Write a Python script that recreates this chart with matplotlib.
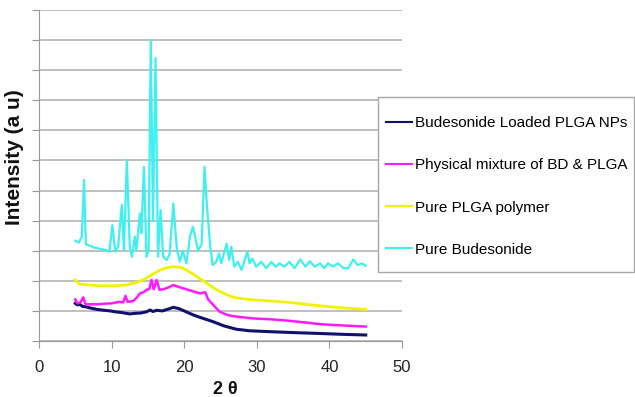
import matplotlib
matplotlib.use("Agg")
import matplotlib.pyplot as plt
from matplotlib.patches import Rectangle

plt.rcParams['font.family'] = ['Liberation Sans', 'DejaVu Sans']

# XRD patterns (2 theta vs intensity in grid units)
nps_x = [5.0, 5.3, 5.6, 6.0, 6.4, 7.0, 8.0, 9.0, 9.8, 10.5, 11.3, 12.0, 12.5, 13.2, 14.0, 14.8,
         15.3, 15.7, 16.2, 17.0, 17.8, 18.5, 19.2, 20.0, 21.3, 22.5, 24.0, 25.5, 27.2, 29.0,
         31.8, 35.0, 38.7, 42.0, 45.0]
nps_y = [1.25, 1.2, 1.22, 1.15, 1.14, 1.1, 1.05, 1.02, 1.0, 0.97, 0.95, 0.92, 0.9, 0.92, 0.93, 0.97,
         1.03, 0.98, 1.02, 1.0, 1.06, 1.12, 1.08, 1.0, 0.86, 0.76, 0.64, 0.5, 0.39, 0.34,
         0.31, 0.28, 0.25, 0.22, 0.2]

mix_x = [5.0, 5.3, 5.7, 6.1, 6.4, 7.0, 8.0, 9.0, 10.0, 11.0, 11.6, 11.9, 12.2, 13.0, 13.5, 13.9,
         14.4, 14.8, 15.2, 15.5, 15.8, 16.2, 16.6, 17.2, 18.0, 18.5, 19.2, 20.3, 21.2, 22.2,
         22.9, 23.3, 24.0, 24.9, 26.0, 27.2, 29.5, 32.0, 34.1, 36.5, 38.7, 41.5, 45.0]
mix_y = [1.38, 1.25, 1.28, 1.45, 1.22, 1.22, 1.22, 1.24, 1.25, 1.3, 1.28, 1.5, 1.3, 1.33, 1.45, 1.58,
         1.62, 1.7, 1.72, 2.03, 1.72, 2.03, 1.7, 1.72, 1.8, 1.86, 1.8, 1.72, 1.65, 1.58,
         1.62, 1.38, 1.2, 0.97, 0.86, 0.81, 0.75, 0.72, 0.68, 0.62, 0.56, 0.52, 0.48]

plga_x = [5.0, 5.5, 6.5, 8.0, 10.0, 12.0, 13.5, 14.5, 15.5, 16.7, 17.5, 18.5, 19.5, 20.3, 21.5,
          23.1, 24.5, 25.9, 27.0, 28.5, 30.0, 32.5, 35.0, 37.5, 40.0, 42.5, 45.0]
plga_y = [2.03, 1.9, 1.87, 1.84, 1.83, 1.86, 1.95, 2.05, 2.2, 2.36, 2.43, 2.47, 2.45, 2.36, 2.18,
          1.92, 1.7, 1.53, 1.44, 1.39, 1.36, 1.32, 1.27, 1.2, 1.14, 1.09, 1.05]

bd_x = [5.0, 5.5, 5.9, 6.2, 6.45, 7.5, 8.5, 9.3, 9.7, 10.1, 10.5, 10.9, 11.4, 11.7, 12.1, 12.5,
        12.8, 13.2, 13.4, 13.9, 14.1, 14.45, 14.8, 15.1, 15.4, 15.7, 16.05, 16.4, 16.75, 17.1,
        17.6, 18.0, 18.5, 19.0, 19.4, 19.8, 20.3, 20.8, 21.2, 21.5, 21.9, 22.4, 22.8, 23.1,
        23.55, 23.9, 24.4, 24.8, 25.1, 25.85, 26.2, 26.5, 26.9, 27.4, 27.9, 28.7, 29.0, 29.4,
        29.9, 30.6, 31.3, 32.0, 32.6, 33.1, 33.8, 34.5, 35.2, 36.0, 36.7, 37.3, 38.0, 38.7,
        39.3, 39.8, 40.5, 41.2, 41.9, 42.6, 43.3, 43.9, 44.5, 45.0]
bd_y = [3.33, 3.27, 3.47, 5.35, 3.22, 3.11, 3.06, 3.02, 2.97, 3.85, 2.97, 3.13, 4.52, 3.02, 6.01, 3.13,
        2.8, 3.47, 3.02, 4.24, 3.58, 5.79, 2.8, 3.0, 10.0, 4.0, 9.4, 2.8, 4.35, 2.8,
        2.69, 2.9, 4.57, 3.02, 2.64, 3.0, 2.58, 3.47, 3.8, 3.47, 3.0, 3.2, 5.79, 4.6,
        3.24, 2.52, 2.63, 2.91, 2.58, 3.24, 2.69, 3.13, 2.47, 2.63, 2.36, 2.97, 2.58, 2.74,
        2.47, 2.63, 2.42, 2.63, 2.47, 2.58, 2.47, 2.63, 2.42, 2.71, 2.47, 2.65, 2.47, 2.58,
        2.42, 2.58, 2.47, 2.58, 2.42, 2.42, 2.71, 2.52, 2.58, 2.5]

labels = ["Budesonide Loaded PLGA NPs", "Physical mixture of BD & PLGA",
          "Pure PLGA polymer", "Pure Budesonide"]
x_ticks = [0, 10, 20, 30, 40, 50]

fig = plt.figure(figsize=(6.35, 3.97), dpi=100)
ax = fig.add_axes([39/635, 1 - 341/397, (402 - 39)/635, (341 - 10)/397])

l1, = ax.plot(nps_x, nps_y, color='#10106e', lw=2.2)
l2, = ax.plot(mix_x, mix_y, color='#ff1aff', lw=1.8)
l3, = ax.plot(plga_x, plga_y, color='#f2f200', lw=2.0)
l4, = ax.plot(bd_x, bd_y, color='#3ff0f0', lw=1.6)

ax.set_xlim(0, 50)
ax.set_ylim(0, 11)
ax.set_xticks(x_ticks)
ax.set_yticks(range(12))
ax.set_yticklabels([])
ax.yaxis.grid(True, color='#b4b4b4', lw=1.2)
ax.set_axisbelow(True)
for s in ['top', 'right']:
    ax.spines[s].set_visible(False)
for s in ['left', 'bottom']:
    ax.spines[s].set_color('#999999')
ax.tick_params(axis='both', colors='#999999', length=5, labelcolor='#222222', labelsize=12)
ax.tick_params(axis='x', pad=9)

fig.text(15/635, 1 - 157/397, "Intensity (a u)", rotation=90, fontsize=15,
         fontweight='bold', ha='center', va='center', color='#111111')
fig.text(225/635, 1 - 389/397, "2 θ", fontsize=13, fontweight='bold',
         ha='center', va='center', color='#111111')

# legend box drawn separately so it can sit over the right end of the grid
box = Rectangle((378/635, 1 - 272/397), (634 - 378)/635, (272 - 97)/397,
                transform=fig.transFigure, facecolor='white', edgecolor='#a8a8a8',
                lw=1.0, zorder=4)
fig.add_artist(box)
leg = fig.legend([l1, l2, l3, l4], labels, loc='upper left',
                 bbox_to_anchor=(386/635, 1 - 116/397), fontsize=11, frameon=False,
                 handlelength=1.7, handletextpad=0.2, labelspacing=1.85,
                 borderpad=0, borderaxespad=0)
leg.set_zorder(5)
for line in leg.get_lines():
    line.set_linewidth(1.5)

fig.savefig("out.png", dpi=100)
